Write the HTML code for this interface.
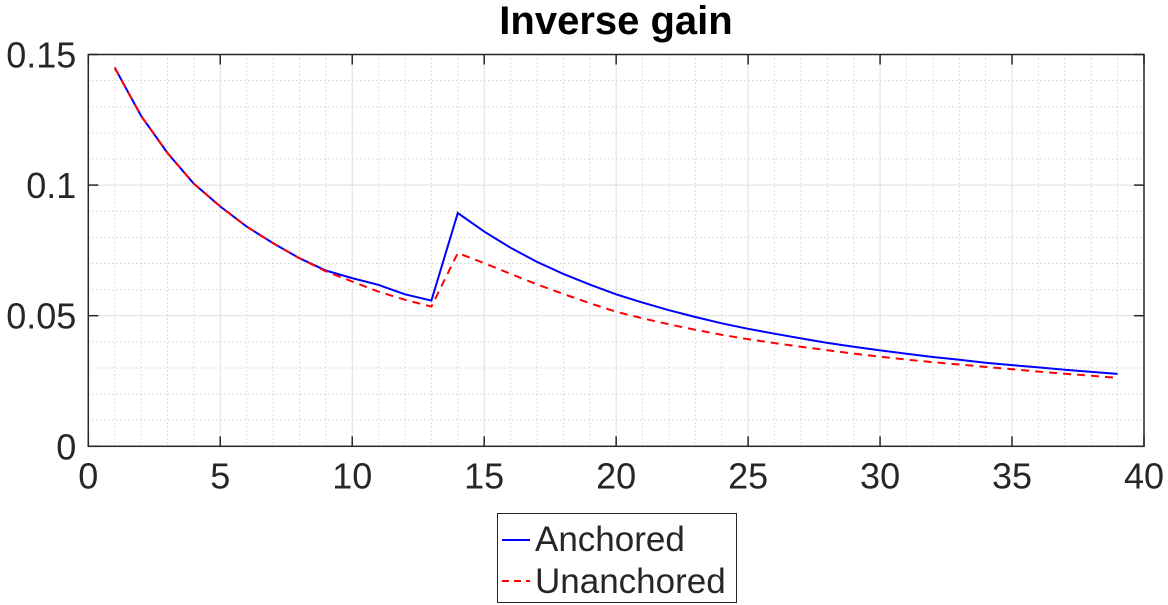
<!DOCTYPE html>
<html><head><meta charset="utf-8"><style>
body{margin:0;background:#fff;}
svg{display:block;font-family:"Liberation Sans",Arial,sans-serif;}
</style></head><body>
<svg id="chart" width="1168" height="605" viewBox="0 0 1168 605">
<text x="616" y="34" text-anchor="middle" font-size="40" font-weight="bold">Inverse gain</text>
<g id="grid"></g><g id="axes"></g><g id="series"></g>
<g>
<rect x="497.5" y="513.5" width="239" height="89" fill="#fff" stroke="#262626" stroke-width="1"/>
<line x1="502" y1="540" x2="530" y2="540" stroke="#0000ff" stroke-width="2"/>
<text x="535" y="551" font-size="35" fill="#262626">Anchored</text>
<line x1="502" y1="581" x2="530" y2="581" stroke="#ff0000" stroke-width="2" stroke-dasharray="7,5"/>
<text x="535" y="593" font-size="35" fill="#262626">Unanchored</text>
</g>
</svg>
<script>
const xValues=[1,2,3,4,5,6,7,8,9,10,11,12,13,14,15,16,17,18,19,20,21,22,23,24,25,26,27,28,29,30,31,32,33,34,35,36,37,38,39];
const anchored=[0.145,0.1265,0.1123,0.1005,0.0918,0.0841,0.0778,0.0720,0.0673,0.0644,0.0618,0.0582,0.0558,0.0893,0.0822,0.0760,0.0706,0.0660,0.0619,0.0582,0.0550,0.0521,0.0495,0.0471,0.0450,0.0431,0.0413,0.0396,0.0381,0.0367,0.0354,0.0342,0.0331,0.0320,0.0311,0.0302,0.0293,0.0285,0.0277];
const unanchored=[0.145,0.1265,0.1123,0.1005,0.0918,0.0841,0.0778,0.0720,0.0670,0.0631,0.0592,0.0561,0.0535,0.0740,0.0701,0.0660,0.0620,0.0583,0.0548,0.0515,0.0490,0.0467,0.0446,0.0427,0.0410,0.0395,0.0381,0.0368,0.0355,0.0343,0.0332,0.0322,0.0313,0.0304,0.0295,0.0286,0.0278,0.0270,0.0262];
const xTicks=[0,5,10,15,20,25,30,35,40];
const yTicks=[0,0.05,0.1,0.15];
const yTickLabels=["0","0.05","0.1","0.15"];
const L=88.3,R=1144,T=54.5,B=446.3;
const xS=v=>L+(v-0)/(40-0)*(R-L);
const yS=v=>B-(v-0)/(0.15-0)*(B-T);
const NS="http://www.w3.org/2000/svg";
function mk(tag,attrs,parent){const e=document.createElementNS(NS,tag);for(const k in attrs)e.setAttribute(k,attrs[k]);parent.appendChild(e);return e;}
const grid=document.getElementById('grid'),axes=document.getElementById('axes'),series=document.getElementById('series');
mk('rect',{x:L,y:T,width:R-L,height:B-T,fill:'#fff'},grid);
for(let i=1;i<40;i++){if(i%5===0)continue;const l=mk('line',{x1:xS(i),x2:xS(i),y1:T,y2:B,stroke:'#bdbdbd','stroke-width':1,'stroke-dasharray':'1,3'},grid);

}
for(let i=1;i<15;i++){if(i%5===0)continue;const v=i*0.01;const l=mk('line',{x1:L,x2:R,y1:yS(v),y2:yS(v),stroke:'#bdbdbd','stroke-width':1,'stroke-dasharray':'1,3'},grid);

}
xTicks.forEach(t=>{const l=mk('line',{x1:xS(t),x2:xS(t),y1:T,y2:B,stroke:'#dedede','stroke-width':1},grid);


const tk=mk('line',{x1:xS(t),x2:xS(t),y1:B,y2:B-10,stroke:'#262626','stroke-width':1.5},axes);


const tk2=mk('line',{x1:xS(t),x2:xS(t),y1:T,y2:T+10,stroke:'#262626','stroke-width':1.5},axes);


const tx=mk('text',{x:xS(t),y:B+42,'text-anchor':'middle','font-size':36,fill:'#262626'},axes);tx.textContent=String(t);

});
yTicks.forEach((t,i)=>{const l=mk('line',{x1:L,x2:R,y1:yS(t),y2:yS(t),stroke:'#dedede','stroke-width':1},grid);


const tk=mk('line',{x1:L,x2:L+10,y1:yS(t),y2:yS(t),stroke:'#262626','stroke-width':1.5},axes);


const tk2=mk('line',{x1:R,x2:R-10,y1:yS(t),y2:yS(t),stroke:'#262626','stroke-width':1.5},axes);


const tx=mk('text',{x:L-12,y:yS(t)+13,'text-anchor':'end','font-size':36,fill:'#262626'},axes);tx.textContent=yTickLabels[i];

});
const box=mk('rect',{x:L,y:T,width:R-L,height:B-T,fill:'none',stroke:'#262626','stroke-width':1.5},axes);


function pts(arr){return arr.map((v,i)=>xS(xValues[i]).toFixed(1)+','+yS(v).toFixed(1)).join(' ');}
const pa=mk('polyline',{points:pts(anchored),fill:'none',stroke:'#0000ff','stroke-width':2},series);


const pu=mk('polyline',{points:pts(unanchored),fill:'none',stroke:'#ff0000','stroke-width':2,'stroke-dasharray':'8,6'},series);


</script>
</body></html>
